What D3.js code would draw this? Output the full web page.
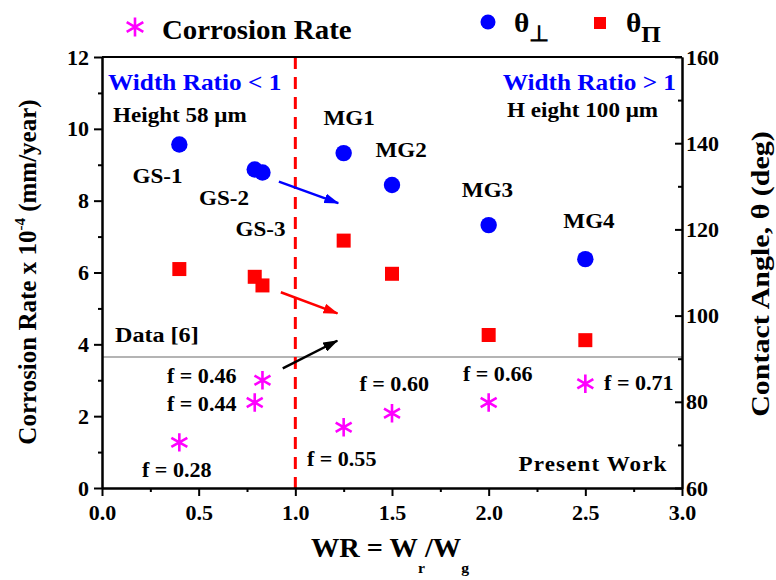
<!DOCTYPE html>
<html>
<head>
<meta charset="utf-8">
<script src="https://cdn.jsdelivr.net/npm/d3@7"></script>
<style>
  body { margin: 0; background: #fff; }
  text { font-family: "Liberation Serif", "Times New Roman", serif; font-weight: bold; }
</style>
</head>
<body>
<div id="my_dataviz"></div>
<script>
// samples (width ratio WR = Wr/Wg)
const sampleNames = ["GS-1", "GS-2", "GS-3", "MG1", "MG2", "MG3", "MG4"];
const widthRatio = [0.40, 0.79, 0.83, 1.25, 1.50, 2.00, 2.50];
// corrosion rate x 10^-4 mm/year (left axis)
const corrosionRate = [1.27, 2.38, 3.00, 1.69, 2.08, 2.38, 2.90];
// contact angles, deg (right axis)
const thetaPerp = [139.7, 133.9, 133.2, 137.7, 130.3, 121.0, 113.1];
const thetaPar = [110.8, 109.0, 107.0, 117.4, 109.7, 95.5, 94.3];
const fractionLabels = ["f = 0.28", "f = 0.44", "f = 0.46", "f = 0.55", "f = 0.60", "f = 0.66", "f = 0.71"];
const referenceRate = 3.65; // Data [6]

const xTicks = [0, 0.5, 1.0, 1.5, 2.0, 2.5, 3.0];
const xMinorTicks = [0.25, 0.75, 1.25, 1.75, 2.25, 2.75];
const leftTicks = [0, 2, 4, 6, 8, 10, 12];
const leftMinorTicks = [1, 3, 5, 7, 9, 11];
const rightTicks = [60, 80, 100, 120, 140, 160];
const rightMinorTicks = [70, 90, 110, 130, 150];

const BLUE = "#0000ff", RED = "#ff0000", MAGENTA = "#ff00ff";

var margin = { top: 57, right: 94, bottom: 92, left: 102 },
  width = 776 - margin.left - margin.right,
  height = 580 - margin.top - margin.bottom;

var root = d3.select("#my_dataviz")
  .append("svg")
  .attr("width", 776)
  .attr("height", 580);

var svg = root.append("g")
  .attr("transform", "translate(" + margin.left + "," + margin.top + ")");

var x = d3.scaleLinear().domain([0, 3]).range([0, width]);
var yLeft = d3.scaleLinear().domain([0, 12]).range([height, 0]);
var yRight = d3.scaleLinear().domain([60, 160]).range([height, 0]);

// text helper: bold serif, slightly widened like the original figure
function addText(parent, px, py, str, o) {
  o = o || {};
  var tr = "translate(" + px + "," + py + ")";
  if (o.rotate) tr += " rotate(" + o.rotate + ")";
  tr += " scale(" + (o.sx || 1.1) + ",1)";
  return parent.append("g").attr("transform", tr)
    .append("text")
    .attr("text-anchor", o.anchor || "start")
    .attr("font-size", o.size || 21)
    .attr("fill", o.color || "#000")
    .attr("letter-spacing", o.spacing || 0)
    .text(str);
}

// reference line and WR = 1 divider
svg.append("line")
  .attr("x1", 0).attr("x2", width)
  .attr("y1", yLeft(referenceRate)).attr("y2", yLeft(referenceRate))
  .attr("stroke", "#b4b4b4").attr("stroke-width", 2);

svg.append("line")
  .attr("x1", x(1)).attr("x2", x(1))
  .attr("y1", 0).attr("y2", height)
  .attr("stroke", RED).attr("stroke-width", 3)
  .attr("stroke-dasharray", "12,8");

// arrows
var defs = root.append("defs");
[["blue", BLUE], ["red", RED], ["black", "#000"]].forEach(function (m) {
  defs.append("marker")
    .attr("id", "arrow-" + m[0])
    .attr("markerUnits", "userSpaceOnUse")
    .attr("markerWidth", 15).attr("markerHeight", 10)
    .attr("refX", 14).attr("refY", 5)
    .attr("orient", "auto")
    .append("path")
    .attr("d", "M0,0 L15,5 L0,10 Z")
    .attr("fill", m[1]);
});
var arrows = [
  { from: [0.915, 8.53], to: [1.222, 7.93], color: BLUE, id: "blue" },
  { from: [0.925, 5.45], to: [1.218, 4.86], color: RED, id: "red" },
  { from: [0.935, 3.33], to: [1.217, 4.10], color: "#000", id: "black" }
];
arrows.forEach(function (a) {
  svg.append("line")
    .attr("x1", x(a.from[0])).attr("y1", yLeft(a.from[1]))
    .attr("x2", x(a.to[0])).attr("y2", yLeft(a.to[1]))
    .attr("stroke", a.color).attr("stroke-width", 2.5)
    .attr("marker-end", "url(#arrow-" + a.id + ")");
});

// markers
svg.selectAll(".perp").data(widthRatio).enter().append("circle")
  .attr("cx", function (d) { return x(d); })
  .attr("cy", function (d, i) { return yRight(thetaPerp[i]); })
  .attr("r", 8.2)
  .attr("fill", BLUE);

svg.selectAll(".par").data(widthRatio).enter().append("rect")
  .attr("x", function (d) { return x(d) - 7; })
  .attr("y", function (d, i) { return yRight(thetaPar[i]) - 7; })
  .attr("width", 14).attr("height", 14)
  .attr("fill", RED);

var star = d3.symbol().type(d3.symbolAsterisk).size(240);
svg.selectAll(".cr").data(widthRatio).enter().append("path")
  .attr("d", star)
  .attr("transform", function (d, i) { return "translate(" + x(d) + "," + yLeft(corrosionRate[i]) + ")"; })
  .attr("fill", "none")
  .attr("stroke", MAGENTA).attr("stroke-width", 2.6);

// annotations (positions in data units: x = WR, y = left axis)
function at(p, q) { return [x(p), yLeft(q)]; }
var p;
p = at(0.031, 11.08); addText(svg, p[0], p[1], "Width Ratio < 1", { color: BLUE, size: 23 });
p = at(2.969, 11.08); addText(svg, p[0], p[1], "Width Ratio > 1", { color: BLUE, size: 23, anchor: "end" });
p = at(0.057, 10.19); addText(svg, p[0], p[1], "Height 58 \u03bcm");
p = at(2.876, 10.33); addText(svg, p[0], p[1], "H eight 100 \u03bcm", { anchor: "end" });

var nameSpots = [[0.287, 8.49], [0.631, 7.88], [0.820, 7.02], [1.278, 10.11], [1.547, 9.21], [1.994, 8.10], [2.519, 7.24]];
sampleNames.forEach(function (n, i) {
  var q = at(nameSpots[i][0], nameSpots[i][1]);
  addText(svg, q[0], q[1], n, { anchor: "middle" });
});

var fSpots = [[0.207, 0.31, "start"], [0.336, 2.14, "start"], [0.336, 2.92, "start"], [1.060, 0.61, "start"],
  [1.691, 2.70, "end"], [1.867, 2.98, "start"], [2.597, 2.73, "start"]];
fractionLabels.forEach(function (f, i) {
  var q = at(fSpots[i][0], fSpots[i][1]);
  addText(svg, q[0], q[1], f, { anchor: fSpots[i][2], sx: 1.05 });
});

p = at(0.067, 4.06); addText(svg, p[0], p[1], "Data [6]", { sx: 1.15 });
p = at(2.925, 0.47); addText(svg, p[0], p[1], "Present Work", { anchor: "end", spacing: 1 });

// axes
function styleAxis(g) {
  g.attr("font-family", null).attr("font-size", 22);
  g.selectAll("path.domain").attr("stroke-width", 2);
  g.selectAll(".tick line").attr("stroke-width", 2);
  g.selectAll(".tick text").attr("fill", "#000");
}

svg.append("g")
  .call(d3.axisLeft(yLeft).tickValues(leftMinorTicks).tickSize(4).tickSizeOuter(0).tickFormat(""))
  .call(styleAxis);
svg.append("g")
  .call(d3.axisLeft(yLeft).tickValues(leftTicks).tickSize(8).tickSizeOuter(0).tickPadding(5))
  .call(styleAxis);

svg.append("g")
  .attr("transform", "translate(" + width + ",0)")
  .call(d3.axisRight(yRight).tickValues(rightMinorTicks).tickSize(-4).tickSizeOuter(0).tickFormat(""))
  .call(styleAxis);
svg.append("g")
  .attr("transform", "translate(" + width + ",0)")
  .call(d3.axisRight(yRight).tickValues(rightTicks).tickSize(-7).tickSizeOuter(0).tickPadding(4))
  .call(styleAxis);

svg.append("g")
  .attr("transform", "translate(0," + height + ")")
  .call(d3.axisBottom(x).tickValues(xMinorTicks).tickSize(4).tickSizeOuter(0).tickFormat(""))
  .call(styleAxis);
svg.append("g")
  .attr("transform", "translate(0," + height + ")")
  .call(d3.axisBottom(x).tickValues(xTicks).tickSize(8).tickSizeOuter(0).tickPadding(8).tickFormat(d3.format(".1f")))
  .call(styleAxis);

svg.append("line")
  .attr("x1", 0).attr("x2", width).attr("y1", 0).attr("y2", 0)
  .attr("stroke", "#000").attr("stroke-width", 2);

// axis titles
var lt = addText(root, 36, 272, "Corrosion Rate x 10", { rotate: -90, anchor: "middle", size: 25, sx: 1 });
lt.append("tspan").attr("font-size", 15).attr("dy", -11).text("-4");
lt.append("tspan").attr("dy", 11).text(" (mm/year)");

addText(root, 769, 274, "Contact Angle, \u03b8 (deg)", { rotate: -90, anchor: "middle", size: 25, sx: 1.2 });

var xt = addText(root, 390, 557, "WR = W", { anchor: "middle", size: 27, sx: 1.05 });
xt.append("tspan").attr("font-size", 15).attr("dy", 16).text("r");
xt.append("tspan").attr("dy", -16).text("/W");
xt.append("tspan").attr("font-size", 15).attr("dy", 16).text("g");

// legend
root.append("path")
  .attr("d", d3.symbol().type(d3.symbolAsterisk).size(260))
  .attr("transform", "translate(135,27)")
  .attr("fill", "none").attr("stroke", MAGENTA).attr("stroke-width", 2.6);
addText(root, 162, 39, "Corrosion Rate", { size: 27, sx: 1.07 });

root.append("circle").attr("cx", 488).attr("cy", 22).attr("r", 7.5).attr("fill", BLUE);
var l2 = addText(root, 514, 32, "\u03b8", { size: 28, sx: 1.05 });
l2.append("tspan").attr("font-size", 22).attr("dy", 9).text("\u22a5");

root.append("rect").attr("x", 594).attr("y", 17).attr("width", 12).attr("height", 12).attr("fill", RED);
var l3 = addText(root, 626, 32, "\u03b8", { size: 28, sx: 1.05 });
l3.append("tspan").attr("font-size", 24).attr("dy", 10).text("\u03a0");
</script>
</body>
</html>
